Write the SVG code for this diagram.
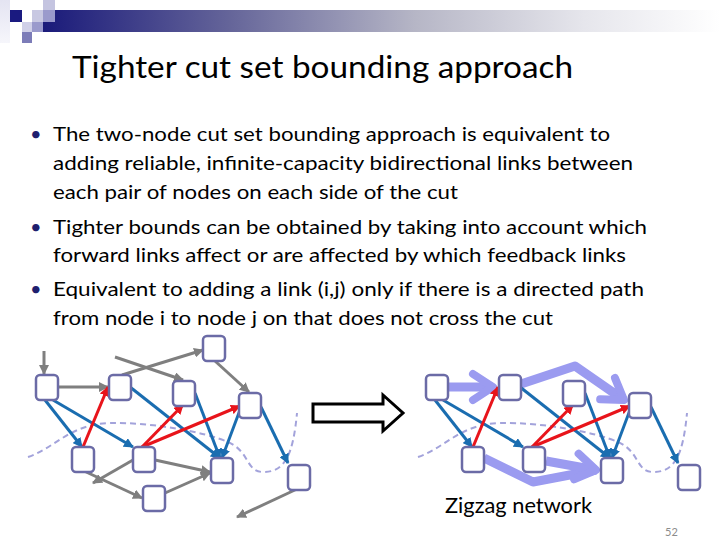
<svg xmlns="http://www.w3.org/2000/svg" width="720" height="540" viewBox="0 0 720 540">
<defs>
<linearGradient id="bar" x1="0" y1="0" x2="1" y2="0">
<stop offset="0" stop-color="#1a1a7a"/>
<stop offset="0.28" stop-color="#66669a"/>
<stop offset="0.55" stop-color="#b6b6c6"/>
<stop offset="0.8" stop-color="#e6e6ec"/>
<stop offset="1" stop-color="#ffffff"/>
</linearGradient>
<linearGradient id="strip" x1="0" y1="0" x2="0" y2="1">
<stop offset="0" stop-color="#e4e4f2"/>
<stop offset="1" stop-color="#f6f6fb"/>
</linearGradient>
<marker id="ag" viewBox="0 0 10 10" refX="9" refY="5" markerWidth="10" markerHeight="10" markerUnits="userSpaceOnUse" orient="auto"><path d="M0,0 L10,5 L0,10 z" fill="#7f7f7f"/></marker>
<marker id="ab" viewBox="0 0 10 10" refX="9" refY="5" markerWidth="10" markerHeight="10" markerUnits="userSpaceOnUse" orient="auto"><path d="M0,0 L10,5 L0,10 z" fill="#1a6db0"/></marker>
<marker id="ar" viewBox="0 0 10 10" refX="9" refY="5" markerWidth="10" markerHeight="10" markerUnits="userSpaceOnUse" orient="auto"><path d="M0,0 L10,5 L0,10 z" fill="#e8141b"/></marker>
<marker id="al" viewBox="-30 -20 40 40" refX="0" refY="0" markerWidth="40" markerHeight="40" markerUnits="userSpaceOnUse" orient="auto"><path d="M-20,-13 L0,0 L-20,13" fill="none" stroke="#9b9bf0" stroke-width="8" stroke-linecap="round" stroke-linejoin="round"/></marker>
</defs>
<style>
.nd rect{fill:#ffffff;stroke:#6b6ba6;stroke-width:2.5}
.g{stroke:#7f7f7f;stroke-width:3;fill:none;marker-end:url(#ag)}
.b{stroke:#1a6db0;stroke-width:3;fill:none;marker-end:url(#ab)}
.r{stroke:#e8141b;stroke-width:3;fill:none;marker-end:url(#ar)}
.l{stroke:#9b9bf0;stroke-width:9;fill:none;stroke-linejoin:round}
.cut{stroke:#a3a3db;stroke-width:2;fill:none;stroke-dasharray:6 4}
.t{font-family:Lato,"Liberation Sans",sans-serif;fill:#000}
</style>
<rect width="720" height="540" fill="#ffffff"/>
<!-- header decoration -->
<rect x="0" y="0" width="10" height="43" fill="url(#strip)"/>
<rect x="43" y="10" width="677" height="22" fill="url(#bar)"/>
<rect x="10" y="10" width="12" height="12" fill="#1a1a80"/>
<rect x="32" y="10" width="11" height="12" fill="#c8c8e2"/>
<rect x="43" y="0" width="12" height="10" fill="#c4c4e0"/>
<rect x="43" y="10" width="12" height="12" fill="#9a9acc"/>
<rect x="22" y="22" width="10" height="10" fill="#d0d0e8"/>
<rect x="32" y="22" width="11" height="10" fill="#9a9acc"/>
<rect x="22" y="32" width="10" height="11" fill="#7c7cb8"/>
<!-- title and bullets -->
<text class="t" x="72" y="78" font-size="30" textLength="501" lengthAdjust="spacingAndGlyphs">Tighter cut set bounding approach</text>
<g class="t" font-size="20">
<text x="30" y="141" fill="#1f1f6e">•</text>
<text x="53" y="141" textLength="557" lengthAdjust="spacingAndGlyphs">The two-node cut set bounding approach is equivalent to</text>
<text x="53" y="170" textLength="580" lengthAdjust="spacingAndGlyphs">adding reliable, infinite-capacity bidirectional links between</text>
<text x="53" y="199" textLength="405" lengthAdjust="spacingAndGlyphs">each pair of nodes on each side of the cut</text>
<text x="30" y="234" fill="#1f1f6e">•</text>
<text x="53" y="234" textLength="594" lengthAdjust="spacingAndGlyphs">Tighter bounds can be obtained by taking into account which</text>
<text x="53" y="262" textLength="573" lengthAdjust="spacingAndGlyphs">forward links affect or are affected by which feedback links</text>
<text x="30" y="296" fill="#1f1f6e">•</text>
<text x="53" y="296" textLength="591" lengthAdjust="spacingAndGlyphs">Equivalent to adding a link (i,j) only if there is a directed path</text>
<text x="53" y="325" textLength="500" lengthAdjust="spacingAndGlyphs">from node i to node j on that does not cross the cut</text>
</g>
<!-- connectors -->
<g id="connectors">
<path class="cut" d="M28,457 C55,448 70,424 110,423 S205,432 228,442 S245,473 265,472 S293,455 297,413"/>
<path class="cut" d="M418,457 C445,448 460,424 500,423 S595,432 618,442 S635,473 655,472 S683,455 687,413"/>
<!-- left gray -->
<path class="g" d="M44,351 L44,374"/>
<path class="g" d="M57,387 L108,387"/>
<path class="g" d="M115,357 L183,380"/>
<path class="g" d="M122,375 L203,350"/>
<path class="g" d="M215,361 L249,392"/>
<path class="g" d="M133,460 L93,483"/>
<path class="g" d="M84,471 L142,498"/>
<path class="g" d="M155,460 L210,472"/>
<path class="g" d="M165,493 L210,473"/>
<path class="g" d="M297,489 L237,517"/>
<!-- left blue -->
<path class="b" d="M45,400 L82,447"/>
<path class="b" d="M53,400 L133,447"/>
<path class="b" d="M130,387 L220,458"/>
<path class="b" d="M195,393 L220,458"/>
<path class="b" d="M240,410 L222,458"/>
<path class="b" d="M261,407 L288,463"/>
<!-- left red -->
<path class="r" d="M83,447 L108,387"/>
<path class="r" d="M142,447 L183,405"/>
<path class="r" d="M142,447 L240,406"/>
<!-- right thick lavender -->
<path class="l" d="M448,387 L493,387" marker-end="url(#al)"/>
<path class="l" d="M521,384 L575,366 L624,400" marker-end="url(#al)"/>
<path class="l" d="M484,458 L533,482 L596,470"/>
<path class="l" d="M546,461 L596,470" marker-end="url(#al)"/>
<!-- right blue -->
<path class="b" d="M435,400 L472,447"/>
<path class="b" d="M443,400 L523,447"/>
<path class="b" d="M520,387 L610,458"/>
<path class="b" d="M585,393 L610,458"/>
<path class="b" d="M630,410 L612,458"/>
<path class="b" d="M651,407 L678,463"/>
<!-- right red -->
<path class="r" d="M473,447 L498,387"/>
<path class="r" d="M532,447 L573,405"/>
<path class="r" d="M532,447 L630,406"/>
<!-- block arrow -->
<polygon points="313,404 383,404 383,395 403,413 383,431 383,422 313,422" fill="#ffffff" stroke="#000000" stroke-width="3" stroke-linejoin="miter"/>
</g>
<!-- left nodes -->
<g id="L1" class="nd"><rect x="36" y="375" width="22" height="25" rx="4"/></g>
<g id="L2" class="nd"><rect x="109" y="375" width="22" height="25" rx="4"/></g>
<g id="L3" class="nd"><rect x="203" y="336" width="22" height="25" rx="4"/></g>
<g id="L4" class="nd"><rect x="173" y="381" width="22" height="25" rx="4"/></g>
<g id="L5" class="nd"><rect x="239" y="393" width="22" height="25" rx="4"/></g>
<g id="L6" class="nd"><rect x="72" y="447" width="22" height="25" rx="4"/></g>
<g id="L7" class="nd"><rect x="133" y="447" width="22" height="25" rx="4"/></g>
<g id="L8" class="nd"><rect x="211" y="458" width="22" height="25" rx="4"/></g>
<g id="L9" class="nd"><rect x="143" y="486" width="22" height="25" rx="4"/></g>
<g id="L10" class="nd"><rect x="288" y="465" width="22" height="25" rx="4"/></g>
<!-- right nodes -->
<g id="R1" class="nd"><rect x="426" y="375" width="22" height="25" rx="4"/></g>
<g id="R2" class="nd"><rect x="499" y="375" width="22" height="25" rx="4"/></g>
<g id="R4" class="nd"><rect x="563" y="381" width="22" height="25" rx="4"/></g>
<g id="R5" class="nd"><rect x="629" y="393" width="22" height="25" rx="4"/></g>
<g id="R6" class="nd"><rect x="462" y="447" width="22" height="25" rx="4"/></g>
<g id="R7" class="nd"><rect x="523" y="447" width="22" height="25" rx="4"/></g>
<g id="R8" class="nd"><rect x="601" y="458" width="22" height="25" rx="4"/></g>
<g id="R10" class="nd"><rect x="678" y="465" width="22" height="25" rx="4"/></g>
<text class="t" x="445" y="513" font-size="21" textLength="147" lengthAdjust="spacingAndGlyphs">Zigzag network</text>
<text x="665" y="536" font-family="Lato,'Liberation Sans',sans-serif" font-size="11" fill="#8c8c8c">52</text>
</svg>
